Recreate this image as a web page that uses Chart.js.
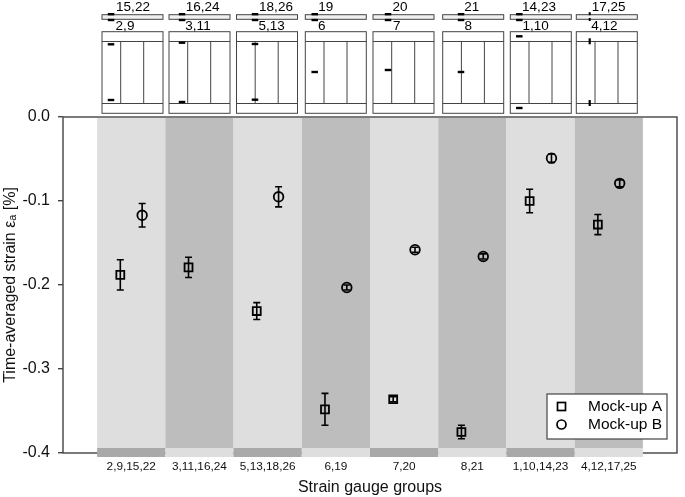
<!DOCTYPE html>
<html><head><meta charset="utf-8">
<style>html,body{margin:0;padding:0;background:#fff}canvas{display:block}</style>
<script src="https://cdn.jsdelivr.net/npm/chart.js@4"></script>
</head><body>
<div style="width:685px;height:497px"><canvas id="c" width="685" height="497"></canvas></div>
<script>
const groupLabels = ["2,9,15,22","3,11,16,24","5,13,18,26","6,19","7,20","8,21","1,10,14,23","4,12,17,25"];
const xA = [0.34,1.34,2.34,3.34,4.34,5.34,6.34,7.34];
const xB = [0.66,1.66,2.66,3.66,4.66,5.66,6.66,7.66];
const valuesA = [-0.188,-0.179,-0.231,-0.348,-0.336,-0.375,-0.100,-0.128];
const errorsA = [0.018,0.012,0.010,0.019,0.003,0.008,0.014,0.012];
const valuesB = [-0.117,null,-0.095,-0.203,-0.158,-0.166,-0.049,-0.079];
const errorsB = [0.014,null,0.012,0.003,0.003,0.003,0.005,0.004];
const yTicks = [0,-0.1,-0.2,-0.3,-0.4];
const topNames = ["15,22","16,24","18,26","19","20","21","14,23","17,25"];
const faceNames = ["2,9","3,11","5,13","6","7","8","1,10","4,12"];
// schematic layout
const schemLeft = [102,169,236.5,305.3,373,442.7,510.3,576.3];
const gaugeX = [111,182,255,314.7,388,461,519.3,589.7];
const gaugeY = [[44.3,100],[42.7,102],[44,99.7],[72],[70],[72],[36.3,108],[41.3,103]];
const topLabelX = [133,202.7,276,325.7,400,471.7,539,608.7];
const faceLabelX = [125,198,271.7,321.7,396.7,468.3,535.7,604.3];

const FONT = '"Liberation Sans", Arial, sans-serif';
const LIGHT='#dedede', DARK='#bdbdbd', STRIP='#a9a9a9';

const backdrop = {
  id:'backdrop',
  beforeDatasetsDraw(chart){
    const {ctx,scales:{x}} = chart, a = chart.chartArea;
    ctx.save();
    ctx.strokeStyle='#444'; ctx.lineWidth=1.4;
    ctx.strokeRect(a.left,a.top,a.right-a.left,a.bottom-a.top);
    for(let i=0;i<groupLabels.length;i++){
      const l=x.getPixelForValue(i), r=x.getPixelForValue(i+1);
      ctx.fillStyle = i%2?DARK:LIGHT;
      ctx.fillRect(l,a.top+1,r-l,331);
      ctx.fillStyle = i%2?LIGHT:STRIP;
      ctx.fillRect(l,a.top+331,r-l,9);
    }
    ctx.restore();
  },
  afterDatasetsDraw(chart){
    const {ctx,scales:{x,y}} = chart;
    ctx.save();
    ctx.strokeStyle='#000'; ctx.lineWidth=1.6;
    const bars=(xs,vals,errs)=>{
      xs.forEach((xv,i)=>{
        if(vals[i]==null) return;
        const px=x.getPixelForValue(xv), t=y.getPixelForValue(vals[i]+errs[i]), b=y.getPixelForValue(vals[i]-errs[i]);
        ctx.beginPath();
        ctx.moveTo(px,t);ctx.lineTo(px,b);
        ctx.moveTo(px-3.5,t);ctx.lineTo(px+3.5,t);
        ctx.moveTo(px-3.5,b);ctx.lineTo(px+3.5,b);
        ctx.stroke();
      });
    };
    bars(xA,valuesA,errorsA);
    bars(xB,valuesB,errorsB);
    // legend
    ctx.fillStyle='#fff'; ctx.strokeStyle='#444'; ctx.lineWidth=1.2;
    ctx.fillRect(547,394,120,45); ctx.strokeRect(547,394,120,45);
    ctx.strokeStyle='#000'; ctx.lineWidth=1.7;
    ctx.strokeRect(557.5,402.5,8,8);
    ctx.beginPath(); ctx.arc(561.5,424.5,4.5,0,Math.PI*2); ctx.stroke();
    ctx.fillStyle='#000'; ctx.font='15.5px '+FONT; ctx.textAlign='left'; ctx.textBaseline='middle';
    ctx.fillText(chart.data.datasets[0].label,588,407);
    ctx.fillText(chart.data.datasets[1].label,588,425);
    ctx.restore();
  },
  afterDraw(chart){
    const {ctx}=chart;
    ctx.save();
    ctx.strokeStyle='#444'; ctx.lineWidth=1;
    ctx.fillStyle='#000';
    schemLeft.forEach((l,i)=>{
      const w=61;
      ctx.fillStyle='#f0f0f0';
      ctx.fillRect(l,14.7,w,4.6);
      ctx.strokeRect(l+.0,14.7,w,4.6);
      ctx.strokeRect(l,31.7,w,81.6);
      ctx.beginPath();
      ctx.moveTo(l,41.5);ctx.lineTo(l+w,41.5);
      ctx.moveTo(l,103.5);ctx.lineTo(l+w,103.5);
      ctx.moveTo(l+18.7,41.5);ctx.lineTo(l+18.7,103.5);
      ctx.moveTo(l+41.7,41.5);ctx.lineTo(l+41.7,103.5);
      ctx.stroke();
      ctx.fillStyle='#000';
      const vert = i===7, mw=vert?2.2:6.5, mh=vert?6:2.4;
      gaugeY[i].forEach(gy=>ctx.fillRect(gaugeX[i]-mw/2,gy-mh/2,mw,mh));
      [14.2,20].forEach(gy=>{
        if(vert) ctx.fillRect(gaugeX[i]-1,gy-2,2,3);
        else ctx.fillRect(gaugeX[i]-3.2,gy-1.2,6.5,2.4);
      });
      ctx.font='13.5px '+FONT; ctx.textAlign='center'; ctx.textBaseline='middle';
      ctx.fillText(topNames[i],topLabelX[i],7);
      ctx.fillText(faceNames[i],faceLabelX[i],26.5);
    });
    ctx.restore();
  }
};

new Chart(document.getElementById('c'),{
  type:'scatter',
  plugins:[backdrop],
  data:{datasets:[
    {label:'Mock-up A',data:xA.map((v,i)=>({x:v,y:valuesA[i]})),pointStyle:'rect',pointRadius:5.6,pointBorderColor:'#000',pointBorderWidth:1.8,pointBackgroundColor:'rgba(0,0,0,0)',showLine:false},
    {label:'Mock-up B',data:xB.map((v,i)=>({x:v,y:valuesB[i]})),pointStyle:'circle',pointRadius:4.8,pointBorderColor:'#000',pointBorderWidth:1.8,pointBackgroundColor:'rgba(0,0,0,0)',showLine:false}
  ]},
  options:{
    responsive:false,animation:false,
    layout:{padding:{top:117,right:8,bottom:0,left:0}},
    plugins:{legend:{display:false},tooltip:{enabled:false}},
    scales:{
      x:{type:'linear',min:-0.5,max:8.5,
        afterBuildTicks(s){s.ticks=groupLabels.map((_,i)=>({value:i+0.5}));},
        afterFit(s){s.height=44;},
        grid:{display:false},border:{display:false},
        ticks:{autoSkip:false,maxRotation:0,padding:-1,color:'#111',font:{size:11.8,family:FONT},callback(v){return groupLabels[Math.floor(v)];}},
        title:{display:true,text:'Strain gauge groups',color:'#111',font:{size:16,family:FONT},padding:{top:13,bottom:0}}
      },
      y:{min:-0.4,max:0,
        afterBuildTicks(s){s.ticks=yTicks.map(v=>({value:v}));},
        afterFit(s){s.width=63;},
        grid:{drawOnChartArea:false,color:'#444',tickLength:5,lineWidth:1.4},border:{display:false},
        ticks:{padding:8,color:'#111',font:{size:16,family:FONT},callback(v){return v.toFixed(1);}},
        title:{display:true,text:'Time-averaged strain εₐ [%]',color:'#111',font:{size:16,family:FONT},padding:{top:1,bottom:0}}
      }
    }
  }
});
</script>
</body></html>
